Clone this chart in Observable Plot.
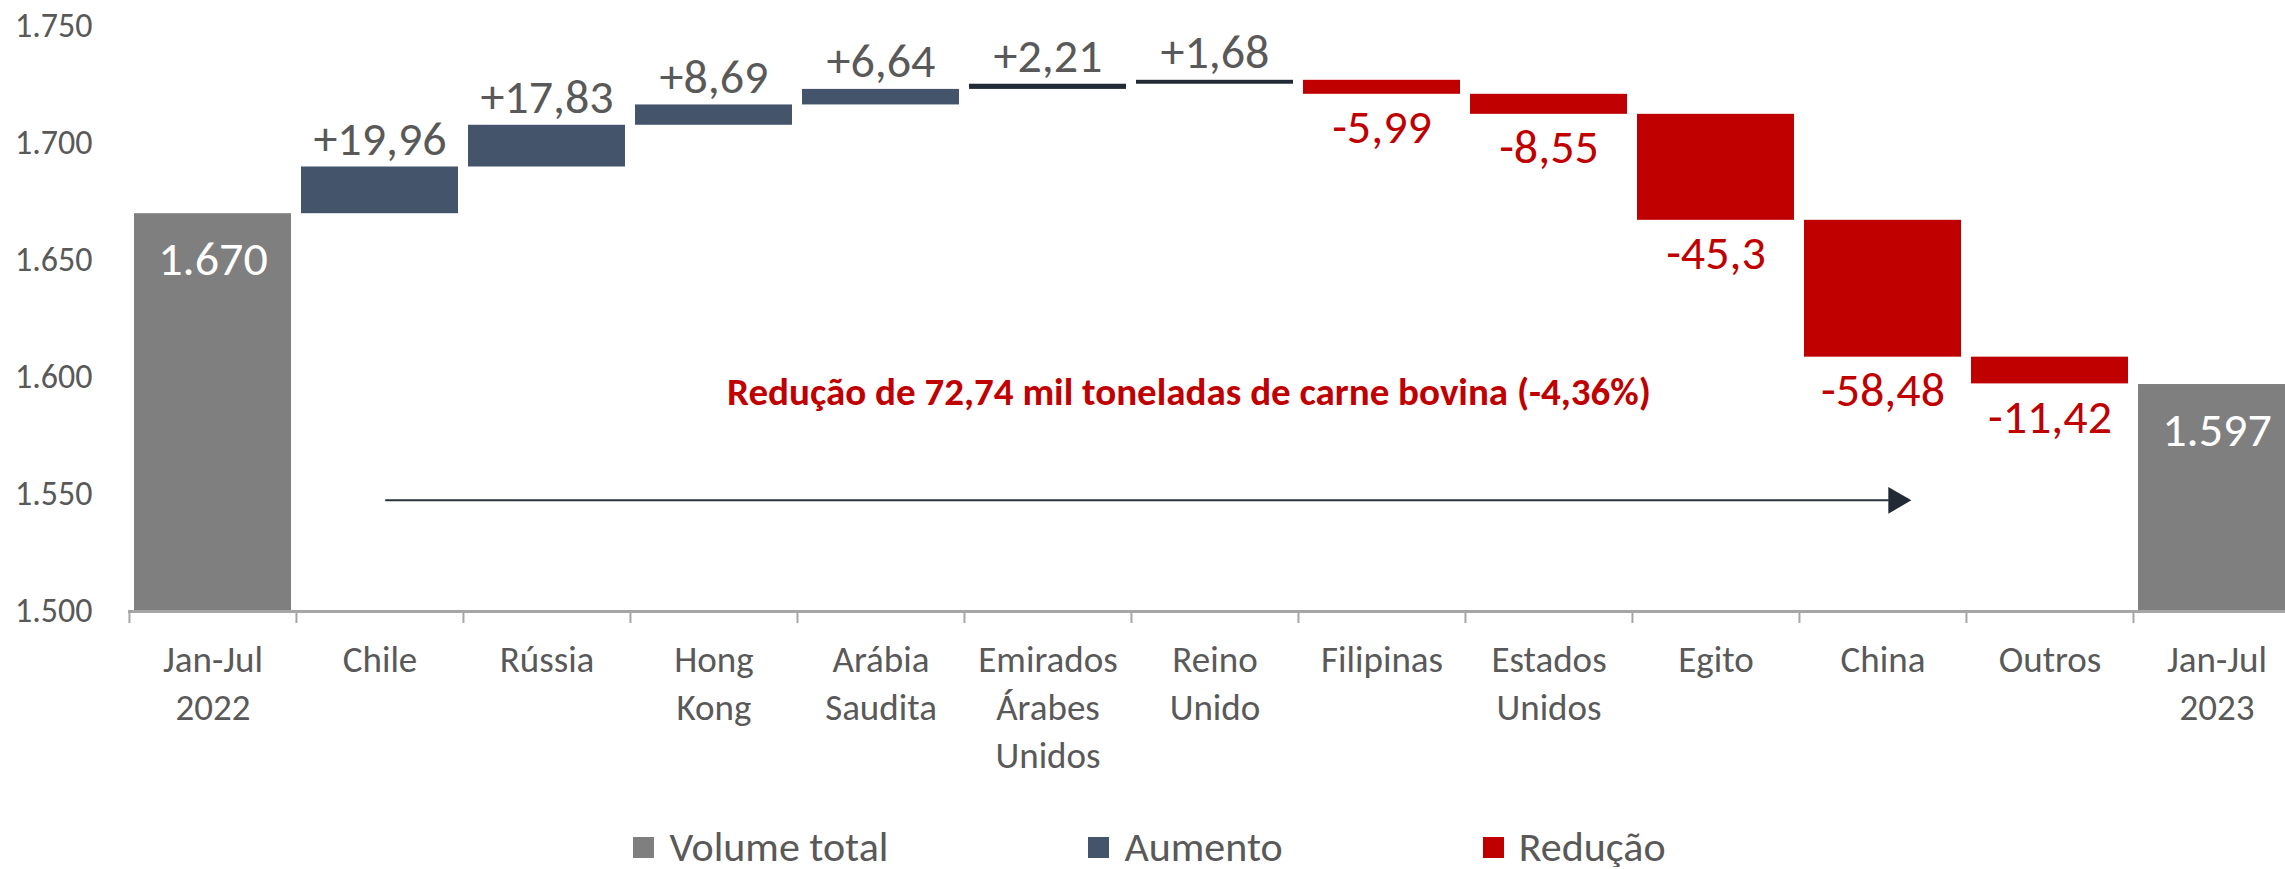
<!DOCTYPE html>
<html>
<head>
<meta charset="utf-8">
<script src="https://cdn.jsdelivr.net/npm/d3@7"></script>
<script src="https://cdn.jsdelivr.net/npm/@observablehq/plot@0.6"></script>
<style>
  html, body { margin: 0; padding: 0; background: #ffffff; overflow: hidden; }
  body { font-family: Carlito, Calibri, Lato, sans-serif; }
  #legend { display: flex; justify-content: center; gap: 200px; padding-top: 17px; padding-left: 14px;
            height: 40px; line-height: 40px; font-size: 42px; color: #595959; }
  #legend .item { display: flex; align-items: center; white-space: nowrap; }
  #legend .sw { width: 21px; height: 21px; margin-right: 15px; display: inline-block; }
</style>
</head>
<body>
<div id="chart"></div>
<div id="legend"></div>
<script>
// ---- data ----
const categories = ["Jan-Jul\n2022", "Chile", "Rússia", "Hong\nKong", "Arábia\nSaudita",
  "Emirados\nÁrabes\nUnidos", "Reino\nUnido", "Filipinas", "Estados\nUnidos", "Egito",
  "China", "Outros", "Jan-Jul\n2023"];
const totals = [1670, 1597];
const totalLabels = ["1.670", "1.597"];
const changes = [19.96, 17.83, 8.69, 6.64, 2.21, 1.68, -5.99, -8.55, -45.3, -58.48, -11.42];
const changeLabels = ["+19,96", "+17,83", "+8,69", "+6,64", "+2,21", "+1,68",
  "-5,99", "-8,55", "-45,3", "-58,48", "-11,42"];
const yTicks = [1500, 1550, 1600, 1650, 1700, 1750];
const legendItems = ["Volume total", "Aumento", "Redução"];
const legendColors = ["#7F7F7F", "#44546A", "#C00000"];
const noteText = ["Redução de 72,74 mil toneladas de carne bovina (-4,36%)"];
const noteCategory = ["Reino\nUnido"];
const noteLevel = [1593.5];
const arrowFrom = ["Chile"];
const arrowTo = ["China"];
const arrowLevel = [1547.5];

// ---- build waterfall rows ----
const rows = [];
rows.push({cat: categories[0], lo: yTicks[0], hi: totals[0], kind: 0, label: totalLabels[0], d: totals[0]});
let run = totals[0];
changes.forEach((c, i) => {
  const a = run, b = run + c;
  rows.push({cat: categories[i + 1], lo: Math.min(a, b), hi: Math.max(a, b),
             kind: c > 0 ? 1 : 2, label: changeLabels[i], d: c});
  run = b;
});
rows.push({cat: categories[12], lo: yTicks[0], hi: totals[1], kind: 0, label: totalLabels[1], d: totals[1]});

const ptBR = d3.formatLocale({decimal: ",", thousands: ".", grouping: [3], currency: ["R$", ""]});
const fmt = ptBR.format(",.0f");

const W = 2285, H = 810, mL = 128, mR = -15, mT = 26, mB = 199;
const bw = (W - mL - mR) / categories.length;
const fontFam = "Carlito, Calibri, Lato, sans-serif";

const fillFor = d => d.kind === 0 ? legendColors[0]
  : d.kind === 2 ? legendColors[2]
  : (Math.abs(d.d) < 3 ? "#222A35" : legendColors[1]);

const chart = Plot.plot({
  width: W, height: H,
  marginLeft: mL, marginRight: mR, marginTop: mT, marginBottom: mB,
  style: {fontFamily: fontFam, background: "#ffffff", color: "#595959"},
  x: {type: "band", domain: categories, padding: 0, label: null},
  y: {domain: [yTicks[0], yTicks[yTicks.length - 1]], label: null},
  marks: [
    Plot.barY(rows, {x: "cat", y1: "lo", y2: "hi", fill: fillFor, insetLeft: 5, insetRight: 5}),
    Plot.ruleY([yTicks[0]], {stroke: "#A6A6A6", strokeWidth: 3}),
    Plot.axisX({tickSize: 12, tickFormat: () => "", stroke: "#A6A6A6", strokeWidth: 2, dx: -bw / 2, label: null}),
    Plot.axisX({tickSize: 0, tickPadding: 26, fontSize: 37, lineHeight: 1.3, fill: "#595959", tickFormat: d => d, label: null}),
    Plot.axisY({ticks: yTicks, tickSize: 0, tickPadding: 36, fontSize: 34, fill: "#595959", tickFormat: fmt, label: null}),
    Plot.text(rows.filter(d => d.kind === 1), {x: "cat", y: "hi", text: "label", lineAnchor: "bottom", dy: -12, fontSize: 48, fill: "#595959"}),
    Plot.text(rows.filter(d => d.kind === 2), {x: "cat", y: "lo", text: "label", lineAnchor: "top", dy: 15, fontSize: 48, fill: "#C00000"}),
    Plot.text(rows.filter(d => d.kind === 0), {x: "cat", y: "hi", text: "label", lineAnchor: "top", dy: 27, fontSize: 48, fill: "#ffffff"}),
    Plot.text(noteText, {x: noteCategory, y: noteLevel, text: d => d, dx: -26, fontSize: 39, fontWeight: "bold", fill: "#C00000"}),
    Plot.arrow(arrowLevel, {x1: arrowFrom, x2: arrowTo, y1: arrowLevel, y2: arrowLevel, headLength: 0,
      insetStart: 6, insetEnd: -5, stroke: "#2A3340", strokeWidth: 2}),
    Plot.dot(arrowLevel, {x: arrowTo, y: arrowLevel, symbol: "triangle", r: 9.9, rotate: 90, dx: 13, fill: "#222A35", stroke: "none"})
  ]
});
document.getElementById("chart").appendChild(chart);

const legend = document.getElementById("legend");
legendItems.forEach((name, i) => {
  const it = document.createElement("span");
  it.className = "item";
  const sw = document.createElement("span");
  sw.className = "sw";
  sw.style.background = legendColors[i];
  it.appendChild(sw);
  it.appendChild(document.createTextNode(name));
  legend.appendChild(it);
});
</script>
</body>
</html>
